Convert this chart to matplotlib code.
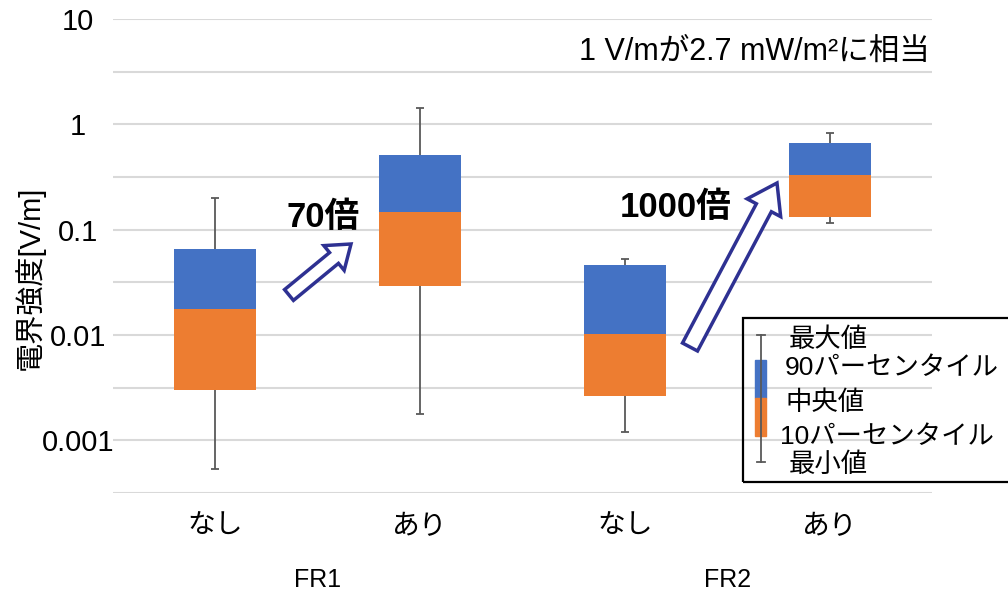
import matplotlib
matplotlib.use('Agg')
import matplotlib.pyplot as plt
import matplotlib.patches as patches
from matplotlib.transforms import IdentityTransform
import numpy as np

plt.rcParams['font.family'] = ['Liberation Sans', 'Noto Sans CJK JP']

# data
categories = ['なし', 'あり', 'なし', 'あり']
groups = ['FR1', 'FR2']
v_min = [0.00054, 0.00176, 0.00119, 0.116]
v_p10 = [0.00298, 0.0294, 0.00261, 0.133]
v_med = [0.0178, 0.148, 0.0103, 0.332]
v_p90 = [0.066, 0.514, 0.0466, 0.668]
v_max = [0.20, 1.43, 0.053, 0.83]

blue = '#4472C4'
orange = '#ED7D31'
navy = '#2E3192'
whisk = '#595959'

W, H = 1008, 591
fig = plt.figure(figsize=(W / 100, H / 100), dpi=100)
ax = fig.add_axes([113 / W, 1 - 493 / H, (932 - 113) / W, (493 - 19) / H])

x = np.arange(len(categories))
p10 = np.array(v_p10)
med = np.array(v_med)
p90 = np.array(v_p90)
lo = np.array(v_min)
hi = np.array(v_max)

# whiskers
ax.vlines(x, p90, hi, color=whisk, lw=1.3, zorder=2)
ax.vlines(x, lo, p10, color=whisk, lw=1.3, zorder=2)
ax.hlines(hi, x - 0.02, x + 0.02, color=whisk, lw=1.3, zorder=2)
ax.hlines(lo, x - 0.02, x + 0.02, color=whisk, lw=1.3, zorder=2)
# boxes
ax.bar(x, med - p10, bottom=p10, width=0.4, color=orange, zorder=3)
ax.bar(x, p90 - med, bottom=med, width=0.4, color=blue, zorder=3)

ax.set_yscale('log')
ax.set_ylim(10 ** -3.5, 10)
ax.set_xlim(-0.5, len(categories) - 0.5)
ax.set_yticks([0.001, 0.01, 0.1, 1, 10])
ax.set_yticklabels(['0.001', '0.01', '0.1', '1', '10'], fontsize=21, ha='center')
ax.set_yticks([10 ** (k + 0.5) for k in range(-4, 1)], minor=True)
ax.yaxis.set_minor_formatter(plt.NullFormatter())
ax.grid(True, which='both', axis='y', color='#D9D9D9', lw=1.5, zorder=0)
ax.set_axisbelow(True)
ax.tick_params(axis='both', which='both', length=0)
ax.tick_params(axis='y', pad=25)
ax.set_xticks(x)
ax.set_xticklabels(categories, fontsize=20)
ax.tick_params(axis='x', pad=15)
for s in ax.spines.values():
    s.set_visible(False)


def fx(px):
    return px / W


def fy(py):
    return 1 - py / H


fig.text(fx(29), fy(278), '電界強度[V/m]', fontsize=21, rotation=90, ha='center', va='center')

fig.text(fx(318), fy(580), groups[0], fontsize=18, ha='center', va='center')
fig.text(fx(728), fy(580), groups[1], fontsize=18, ha='center', va='center')

fig.text(fx(930), fy(52), '1 V/mが2.7 mW/m²に相当', fontsize=22, ha='right', va='center')
fig.text(fx(323), fy(218), '70倍', fontsize=25, fontweight='bold', ha='center', va='center')
fig.text(fx(676), fy(208), '1000倍', fontsize=25, fontweight='bold', ha='center', va='center')

# block arrows (pixel coords)
for (x0, y0, x1, y1, w, hw, hl) in [(289, 295, 351, 244, 14, 32, 22),
                                   (690, 347, 777, 183, 17, 38, 28)]:
    arr = patches.FancyArrow(x0, H - y0, x1 - x0, y0 - y1, width=w, head_width=hw,
                             head_length=hl, length_includes_head=True,
                             fc='white', ec=navy, lw=2.5, transform=IdentityTransform(),
                             zorder=5)
    fig.patches.append(arr)

# legend drawn by hand
fig.patches.append(patches.Rectangle((743, H - 482), 300, 164, fill=False, ec='black', lw=1.6,
                                     transform=IdentityTransform()))
fig.add_artist(plt.Line2D([761, 761], [H - 335, H - 462], color=whisk, lw=1.3,
                          transform=IdentityTransform()))
for yy in [335, 462]:
    fig.add_artist(plt.Line2D([757, 765], [H - yy, H - yy], color=whisk, lw=1.3,
                              transform=IdentityTransform()))
fig.patches.append(patches.Rectangle((755, H - 398), 11, 38, color=blue, transform=IdentityTransform()))
fig.patches.append(patches.Rectangle((755, H - 436), 11, 38, color=orange, transform=IdentityTransform()))
leg_items = [('最大値', 789, 340), ('90パーセンタイル', 785, 368), ('中央値', 785, 403),
             ('10パーセンタイル', 780, 437), ('最小値', 789, 465)]
for t, lx, ly in leg_items:
    fig.text(fx(lx), fy(ly), t, fontsize=19, ha='left', va='center')

fig.savefig('out.png', dpi=100)
